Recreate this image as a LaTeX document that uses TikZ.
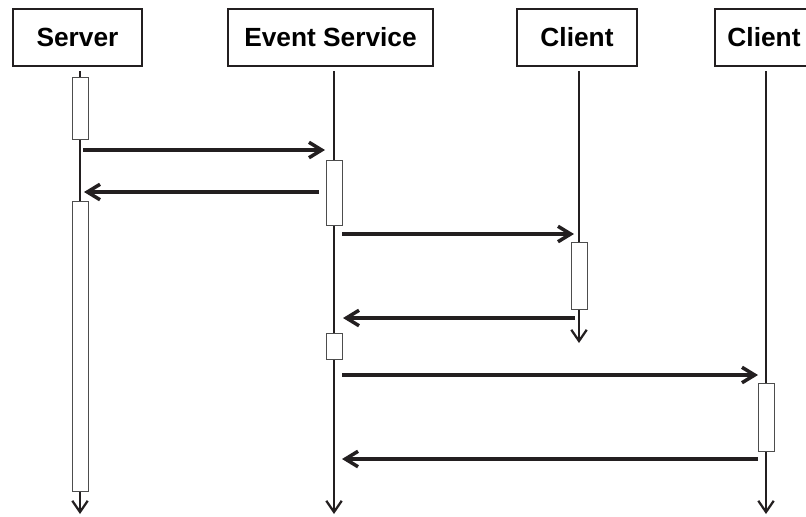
\documentclass[tikz,border=0pt]{standalone}
\usepackage{fontspec}
\setmainfont{Liberation Sans}
\usetikzlibrary{arrows.meta}
\definecolor{ink}{HTML}{231F20}
\definecolor{actline}{HTML}{4D4D4D}

\begin{document}
\begin{tikzpicture}[x={(0.025cm,0)}, y={(0,-0.025cm)},
  head/.style={draw=ink, line width=1.5pt, fill=white, minimum height=1.425cm, inner sep=0pt, font=\fontsize{18.7}{22}\selectfont\bfseries},
  life/.style={draw=ink, line width=1.6pt, -{Straight Barb[length=8pt,width=11pt]}},
  act/.style={draw=actline, line width=0.7pt, fill=white, minimum width=0.4cm, inner sep=0pt},
  msg/.style={draw=ink, line width=2.5pt, -{Straight Barb[length=9pt,width=11pt]}}]
\useasboundingbox (0,0) rectangle (806,516);
\clip (0,0) rectangle (806,516);

% participants
\node[head, minimum width=3.225cm] (srv) at (77.5,37.5) {Server};
\node[head, minimum width=5.125cm] (evs) at (330.5,37.5) {Event Service};
\node[head, minimum width=3.0cm] (cla) at (577,37.5) {Client};
\node[head, minimum width=2.45cm] (clb) at (764,37.5) {Client};

% lifelines
\coordinate (srvtop) at (80,71);  \coordinate (srvbot) at (80,514);
\coordinate (evstop) at (334,71); \coordinate (evsbot) at (334,514);
\coordinate (clatop) at (579,71); \coordinate (clabot) at (579,343);
\coordinate (clbtop) at (766,71); \coordinate (clbbot) at (766,514);
\draw[life] (srvtop) -- (srvbot);
\draw[life] (evstop) -- (evsbot);
\draw[life] (clatop) -- (clabot);
\draw[life] (clbtop) -- (clbbot);

% activations
\node[act, minimum height=1.55cm] (srva) at (80,108) {};
\node[act, minimum height=7.225cm] (srvb) at (80,346.5) {};
\node[act, minimum height=1.625cm] (evsa) at (334.5,192.5) {};
\node[act, minimum height=0.65cm] (evsb) at (334.5,346) {};
\node[act, minimum height=1.675cm] (claa) at (579,275.5) {};
\node[act, minimum height=1.7cm] (clba) at (766,417) {};

% message ends
\coordinate (m1a) at (83,150);  \coordinate (m1b) at (325,150);
\coordinate (m2a) at (319,192); \coordinate (m2b) at (84,192);
\coordinate (m3a) at (342,234); \coordinate (m3b) at (574,234);
\coordinate (m4a) at (575,318); \coordinate (m4b) at (343,318);
\coordinate (m5a) at (342,375); \coordinate (m5b) at (758,375);
\coordinate (m6a) at (758,459); \coordinate (m6b) at (342,459);

% messages
\draw[msg] (m1a) -- (m1b);
\draw[msg] (m2a) -- (m2b);
\draw[msg] (m3a) -- (m3b);
\draw[msg] (m4a) -- (m4b);
\draw[msg] (m5a) -- (m5b);
\draw[msg] (m6a) -- (m6b);
\end{tikzpicture}
\end{document}
